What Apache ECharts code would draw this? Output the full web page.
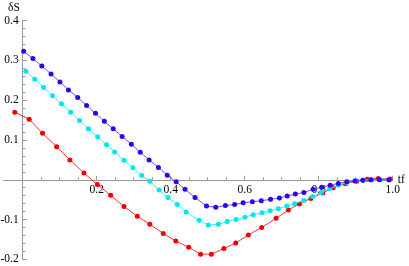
<!DOCTYPE html>
<html><head><meta charset="utf-8">
<script src="https://cdn.jsdelivr.net/npm/echarts@6/dist/echarts.min.js"></script>
<style>html,body{margin:0;padding:0;background:#fff}#c{width:409px;height:266px}</style>
</head><body><div id="c"></div>
<script>
var blueX = [0.003,0.028,0.052,0.077,0.101,0.124,0.149,0.173,0.197,0.221,0.245,0.269,0.294,0.318,0.342,0.367,0.391,0.415,0.439,0.466,0.497,0.522,0.548,0.573,0.596,0.621,0.645,0.670,0.694,0.715,0.737,0.760,0.785,0.808,0.831,0.853,0.876,0.898,0.919,0.941,0.964,0.990];
var blueY = [0.323,0.305,0.286,0.266,0.246,0.226,0.207,0.187,0.167,0.147,0.128,0.109,0.0895,0.069,0.050,0.031,0.0116,-0.005,-0.024,-0.0445,-0.066,-0.069,-0.065,-0.062,-0.058,-0.055,-0.053,-0.049,-0.046,-0.041,-0.036,-0.032,-0.024,-0.019,-0.0136,-0.0093,-0.005,-0.003,-0.001,0,0,0];
var cyanX = [0.009,0.033,0.057,0.081,0.105,0.130,0.154,0.178,0.203,0.227,0.249,0.274,0.298,0.322,0.344,0.369,0.393,0.418,0.442,0.477,0.502,0.529,0.553,0.577,0.601,0.623,0.647,0.669,0.691,0.714,0.735,0.760,0.784,0.807,0.830,0.853,0.876,0.899,0.921,0.944,0.967,0.990];
var cyanY = [0.273,0.253,0.232,0.211,0.191,0.170,0.149,0.128,0.108,0.088,0.070,0.049,0.030,0.011,-0.004,-0.026,-0.0445,-0.062,-0.081,-0.102,-0.114,-0.112,-0.105,-0.100,-0.094,-0.088,-0.083,-0.078,-0.073,-0.066,-0.060,-0.052,-0.042,-0.032,-0.022,-0.014,-0.007,-0.003,-0.001,0,0,0];
var redX = [-0.021,0.018,0.054,0.092,0.128,0.166,0.202,0.238,0.274,0.310,0.344,0.380,0.414,0.449,0.481,0.510,0.544,0.576,0.610,0.646,0.685,0.718,0.748,0.779,0.811,0.839,0.872,0.903,0.931,0.961,0.993];
var redY = [0.170,0.152,0.117,0.083,0.050,0.017,-0.012,-0.039,-0.067,-0.092,-0.112,-0.135,-0.154,-0.170,-0.187,-0.187,-0.173,-0.159,-0.139,-0.120,-0.097,-0.076,-0.061,-0.047,-0.033,-0.020,-0.010,-0.0035,0.0015,0.003,0.002];
var xTicks = [0.2,0.4,0.6,0.8,1.0];
var yTicks = [-0.2,-0.1,0.1,0.2,0.3,0.4];

function pairs(xs, ys){ return xs.map(function(x,i){return [x, ys[i]];}); }
function fmt(list){ return function(v){ for(var i=0;i<list.length;i++){ if(Math.abs(list[i]-v)<1e-6) return list[i].toFixed(1);} return ''; }; }

var axisGray = '#999999';
var font = 'Liberation Serif';
var G = {top:20.7, bottom:6.7, right:16.3, dataLeft:3.3, axisLeft:22.7};
var zeroBottom = 266 - (G.top + (266 - G.top - G.bottom) * 0.4 / 0.6);
function ser(name, xs, ys, pt, ln, z){
  return {name:name,type:'line',xAxisIndex:0,yAxisIndex:0,data:pairs(xs,ys),symbol:'circle',symbolSize:5,clip:false,
    itemStyle:{color:pt,borderWidth:0},lineStyle:{color:ln,width:1},animation:false,z:z};
}
function hiddenAxis(gi, min, max){ return {gridIndex:gi,type:'value',min:min,max:max,show:false,axisLine:{onZero:false},splitLine:{show:false}}; }
var chart = echarts.init(document.getElementById('c'));
chart.setOption({
  animation:false,
  grid:[
    {left:G.dataLeft,right:G.right,top:G.top,bottom:G.bottom,containLabel:false,outerBoundsMode:'none'},
    {left:G.axisLeft,right:G.right,top:G.top,bottom:G.bottom,containLabel:false,outerBoundsMode:'none'},
    {left:G.axisLeft,right:G.right,top:G.top,bottom:zeroBottom,containLabel:false,outerBoundsMode:'none'},
    {left:G.dataLeft,right:G.right,top:G.top,bottom:zeroBottom,containLabel:false,outerBoundsMode:'none'}
  ],
  xAxis:[
    hiddenAxis(0,-0.052,1.0),
    hiddenAxis(1,0,1),
    {gridIndex:2,type:'value',position:'bottom',min:0,max:1,interval:0.2,axisLine:{show:false,onZero:false},
     axisTick:{show:true,inside:true,length:4,lineStyle:{color:axisGray}},
     minorTick:{show:true,splitNumber:4,length:2.5,lineStyle:{color:axisGray}},
     axisLabel:{formatter:fmt(xTicks),fontFamily:font,fontSize:11.5,color:'#000',margin:4},
     splitLine:{show:false}},
    {gridIndex:3,type:'value',position:'bottom',min:-0.052,max:1.0,axisLine:{show:true,onZero:false,lineStyle:{color:axisGray,width:1}},
     axisTick:{show:false},axisLabel:{show:false},splitLine:{show:false},
     name:'tf',nameLocation:'end',nameGap:5,nameTextStyle:{fontFamily:font,fontSize:11.5,color:'#000'}}
  ],
  yAxis:[
    hiddenAxis(0,-0.2,0.4),
    {gridIndex:1,type:'value',position:'left',min:-0.2,max:0.4,interval:0.1,axisLine:{show:true,onZero:false,lineStyle:{color:axisGray,width:1}},
     axisTick:{show:true,inside:true,length:4,lineStyle:{color:axisGray}},
     minorTick:{show:true,splitNumber:5,length:2.5,lineStyle:{color:axisGray}},
     axisLabel:{formatter:fmt(yTicks),fontFamily:font,fontSize:11.5,color:'#000',margin:4},
     splitLine:{show:false}},
    hiddenAxis(2,0,1),
    hiddenAxis(3,0,1)
  ],
  graphic:[{type:'text',left:8,top:2,style:{text:'δS',font:'11.5px "Liberation Serif"',fill:'#000'}}],
  series:[
    ser('red', redX, redY, '#ee0000', '#ff3333', 3),
    ser('cyan', cyanX, cyanY, '#00e5ee', '#33eeff', 4),
    ser('blue', blueX, blueY, '#3300ee', '#6655ff', 5)
  ]
});
</script></body></html>
